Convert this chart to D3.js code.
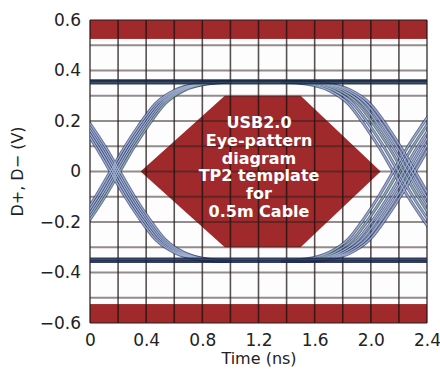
<!DOCTYPE html>
<html>
<head>
<meta charset="utf-8">
<script src="https://cdn.jsdelivr.net/npm/d3@7"></script>
<style>
  html, body { margin: 0; padding: 0; background: #fff; }
  svg { display: block; }
</style>
</head>
<body>
<svg id="chart" width="440" height="376"></svg>
<script>
// Axis ticks and labels
const timeTicks = [0, 0.4, 0.8, 1.2, 1.6, 2.0, 2.4];
const timeTickLabels = ["0", "0.4", "0.8", "1.2", "1.6", "2.0", "2.4"];
const voltTicks = [-0.6, -0.4, -0.2, 0, 0.2, 0.4, 0.6];
const voltTickLabels = ["\u22120.6", "\u22120.4", "\u22120.2", "0", "0.2", "0.4", "0.6"];

// Grid divisions (ns, V)
const gridTimes = [0, 0.2, 0.4, 0.6, 0.8, 1.0, 1.2, 1.4, 1.6, 1.8, 2.0, 2.2, 2.4];
const gridVolts = [-0.6, -0.5, -0.4, -0.3, -0.2, -0.1, 0, 0.1, 0.2, 0.3, 0.4, 0.5, 0.6];

// Forbidden level bands above +525 mV and below -525 mV
const limitBands = [[0.525, 0.6], [-0.6, -0.525]];

// TP2 eye mask hexagon (ns, V)
const maskPoints = [[0.36, 0], [0.96, 0.30], [1.50, 0.30], [2.07, 0], [1.50, -0.30], [0.96, -0.30]];
const maskText = ["USB2.0", "Eye-pattern", "diagram", "TP2 template", "for", "0.5m Cable"];

// Settled high / low levels of the captured traces (V)
const highLevels = [0.348, 0.353, 0.358, 0.362];
const lowLevels = [-0.344, -0.349, -0.354, -0.359];

// Rising edge shape around its zero crossing (dt in ns, V)
const risingEdge = [
  [-0.80, -0.355], [-0.62, -0.347], [-0.46, -0.322], [-0.32, -0.268],
  [-0.20, -0.180], [-0.10, -0.095], [0, 0], [0.10, 0.095],
  [0.20, 0.180], [0.32, 0.268], [0.46, 0.322], [0.62, 0.347], [0.80, 0.355]
];

// Zero crossings of the two eye edges (ns) and per-strand timing jitter (ns)
const crossings = [0.18, 2.29];
const jitterLeft = [-0.035, -0.018, 0, 0.016, 0.032];
const jitterRight = [-0.13, -0.095, -0.06, -0.03, 0, 0.025];

const svg = d3.select("#chart");
const pLeft = 90, pRight = 427, pTop = 20, pBottom = 323;

const x = d3.scaleLinear().domain([0, 2.4]).range([pLeft, pRight]);
const y = d3.scaleLinear().domain([-0.6, 0.6]).range([pBottom, pTop]);

const fontFamily = "'DejaVu Sans', Verdana, sans-serif";
const red = "#a02a2b";

svg.append("defs").append("clipPath").attr("id", "plotClip")
  .append("rect").attr("x", pLeft).attr("y", pTop)
  .attr("width", pRight - pLeft).attr("height", pBottom - pTop);

const plot = svg.append("g");

// plot background
plot.append("rect").attr("x", pLeft).attr("y", pTop)
  .attr("width", pRight - pLeft).attr("height", pBottom - pTop).attr("fill", "#fdfdfd");

// limit bands
plot.selectAll("rect.band").data(limitBands).join("rect")
  .attr("class", "band")
  .attr("x", pLeft).attr("width", pRight - pLeft)
  .attr("y", d => y(d[1])).attr("height", d => y(d[0]) - y(d[1]))
  .attr("fill", red);

// mask hexagon
plot.append("path")
  .attr("d", d3.line().x(d => x(d[0])).y(d => y(d[1]))(maskPoints) + "Z")
  .attr("fill", red);

// grid
const grid = plot.append("g");
grid.selectAll("line.v").data(gridTimes).join("line")
  .attr("class", "v")
  .attr("x1", d => x(d)).attr("x2", d => x(d))
  .attr("y1", pTop).attr("y2", pBottom)
  .attr("stroke", "rgba(25,15,15,0.72)").attr("stroke-width", 1.6);
grid.selectAll("line.h").data(gridVolts).join("line")
  .attr("class", "h")
  .attr("x1", pLeft).attr("x2", pRight)
  .attr("y1", d => y(d)).attr("y2", d => y(d))
  .attr("stroke", "rgba(40,30,30,0.5)").attr("stroke-width", 1.8);

// traces
const traces = plot.append("g").attr("clip-path", "url(#plotClip)");
const line = d3.line().x(d => x(d[0])).y(d => y(d[1])).curve(d3.curveMonotoneX);

function edgeStrands(crossing, jitters, sign) {
  return jitters.map(j => risingEdge.map(p => [crossing + j + p[0], sign * p[1]]));
}

const strands = [];
crossings.forEach((c, i) => {
  const jit = i === 0 ? jitterLeft : jitterRight;
  edgeStrands(c, jit, 1).forEach(s => strands.push(s));
  edgeStrands(c, jit, -1).forEach(s => strands.push(s));
});

// outer dark tube, then lighter core for each strand
traces.selectAll("path.edgeOuter").data(strands).join("path")
  .attr("class", "edgeOuter")
  .attr("d", line).attr("fill", "none")
  .attr("stroke", "#26386a").attr("stroke-opacity", 0.7).attr("stroke-width", 3.2);
traces.selectAll("path.edgeInner").data(strands).join("path")
  .attr("class", "edgeInner")
  .attr("d", line).attr("fill", "none")
  .attr("stroke", (d, i) => i % 7 === 4 ? "#98b8a6" : "#a8b6d6")
  .attr("stroke-opacity", 0.85).attr("stroke-width", 1.3);

// settled levels
const levels = highLevels.concat(lowLevels);
traces.selectAll("line.level").data(levels).join("line")
  .attr("class", "level")
  .attr("x1", pLeft).attr("x2", pRight)
  .attr("y1", d => y(d)).attr("y2", d => y(d))
  .attr("stroke", (d, i) => i % 4 === 1 ? "#22404a" : "#172248")
  .attr("stroke-opacity", 0.88).attr("stroke-width", 1.7);

// mask caption
const midY = y(0);
svg.append("g").selectAll("text").data(maskText).join("text")
  .attr("x", 259)
  .attr("y", (d, i) => midY + 1 + (i - 2.5) * 17.8)
  .attr("text-anchor", "middle")
  .attr("font-family", fontFamily)
  .attr("font-weight", "bold")
  .attr("font-size", 16)
  .attr("fill", "#fff")
  .text(d => d);

// axes
const yAxis = svg.append("g").attr("transform", `translate(${pLeft},0)`)
  .call(d3.axisLeft(y).tickValues(voltTicks).tickSize(0).tickPadding(9)
    .tickFormat((d, i) => voltTickLabels[i]));
const xAxis = svg.append("g").attr("transform", `translate(0,${pBottom})`)
  .call(d3.axisBottom(x).tickValues(timeTicks).tickSize(0).tickPadding(11)
    .tickFormat((d, i) => timeTickLabels[i]));
[xAxis, yAxis].forEach(a => {
  a.select(".domain").remove();
  a.selectAll("text").attr("font-family", fontFamily).attr("font-size", 17).attr("fill", "#222");
});

// axis titles
svg.append("text")
  .attr("x", 259).attr("y", 364)
  .attr("text-anchor", "middle")
  .attr("font-family", fontFamily).attr("font-size", 16).attr("fill", "#222")
  .text("Time (ns)");
svg.append("text")
  .attr("transform", `translate(23,${midY}) rotate(-90)`)
  .attr("text-anchor", "middle")
  .attr("font-family", fontFamily).attr("font-size", 16).attr("fill", "#222")
  .text("D+, D\u2212 (V)");
</script>
</body>
</html>
